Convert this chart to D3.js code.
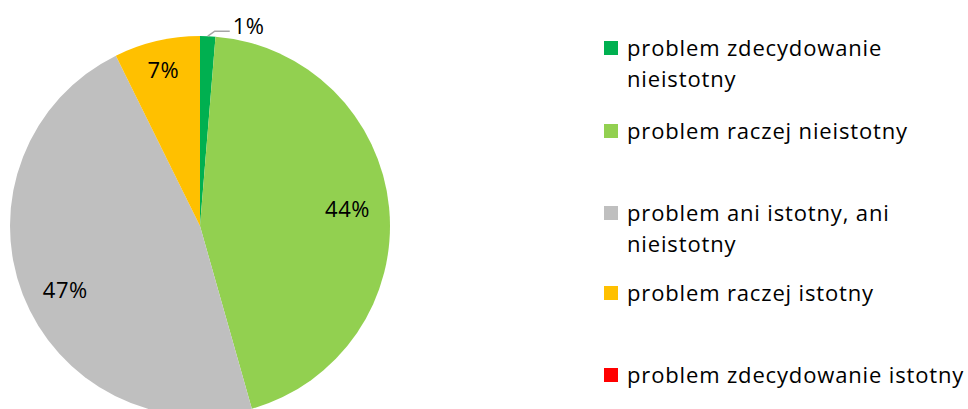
<!DOCTYPE html>
<html lang="pl">
<head>
<meta charset="utf-8">
<title>Pie</title>
<script src="https://cdn.jsdelivr.net/npm/d3@7"></script>
<style>
  body { margin: 0; background: #fff; }
  text { font-family: "Open Sans", Lato, sans-serif; fill: #000; }
</style>
</head>
<body>
<div id="chart"></div>
<script>
// dane
var categories = ["problem zdecydowanie nieistotny", "problem raczej nieistotny",
                  "problem ani istotny, ani nieistotny", "problem raczej istotny",
                  "problem zdecydowanie istotny"];
var legendLines = [["problem zdecydowanie", "nieistotny"], ["problem raczej nieistotny"],
                   ["problem ani istotny, ani", "nieistotny"], ["problem raczej istotny"],
                   ["problem zdecydowanie istotny"]];
var values = [1.3, 44.3, 47.1, 7.3, 0];
var labels = ["1%", "44%", "47%", "7%", ""];
var colors = ["#00B050", "#92D050", "#BFBFBF", "#FFC000", "#FF0000"];

var w = 968, h = 409;
var cx = 200, cy = 226, r = 190;

var svg = d3.select("#chart").append("svg")
            .attr("width", w).attr("height", h);

var pie = d3.pie().sort(null).value(function(d) { return d; });
var arcs = pie(values);
var arc = d3.arc().innerRadius(0).outerRadius(r);

var g = svg.append("g").attr("transform", "translate(" + cx + "," + cy + ")");
g.selectAll("path")
 .data(arcs)
 .enter().append("path")
 .attr("d", arc)
 .attr("fill", function(d, i) { return colors[i]; });

// etykiety wewnątrz (promień dobrany jak w Excelu)
var labelR = [0, 0.78, 0.76, 0.85, 0];
var labelDy = [0, -2, 12, 2, 0];
function labelPos(d, i) {
  var a = (d.startAngle + d.endAngle) / 2;
  return [Math.sin(a) * r * labelR[i], -Math.cos(a) * r * labelR[i] + labelDy[i]];
}
g.selectAll("text.lab")
 .data(arcs)
 .enter().filter(function(d, i) { return i > 0 && labels[i]; })
 .append("text")
 .attr("class", "lab")
 .attr("x", function(d) { return labelPos(d, d.index)[0]; })
 .attr("y", function(d) { return labelPos(d, d.index)[1]; })
 .attr("text-anchor", "middle")
 .attr("dy", "0.35em")
 .style("font-size", "22px")
 .style("letter-spacing", "0.5px")
 .text(function(d) { return labels[d.index]; });

// etykieta 1% z linią
var a0 = arcs[0];
var mid = (a0.startAngle + a0.endAngle) / 2;
var p0 = [Math.sin(mid) * r, -Math.cos(mid) * r];
g.append("polyline")
 .attr("points", [p0, [p0[0] + 7, p0[1] - 5], [p0[0] + 22, p0[1] - 5]].map(function(p) { return p.join(","); }).join(" "))
 .attr("fill", "none").attr("stroke", "#A6A6A6").attr("stroke-width", 1.5);
g.append("text")
 .attr("x", p0[0] + 25).attr("y", p0[1] - 10)
 .attr("dy", "0.35em")
 .style("font-size", "22px")
 .style("letter-spacing", "0.5px")
 .text(labels[0]);

// legenda
var legendY = [48, 131, 213, 293, 375];
var lg = svg.append("g");
legendLines.forEach(function(lines, i) {
  lg.append("rect")
    .attr("x", 604).attr("y", legendY[i] - 7)
    .attr("width", 14).attr("height", 14)
    .attr("fill", colors[i]);
  lines.forEach(function(t, j) {
    lg.append("text")
      .attr("x", 627).attr("y", legendY[i] + j * 31)
      .attr("dy", "0.35em")
      .style("font-size", "22px")
      .style("letter-spacing", "0.85px")
      .text(t);
  });
});
</script>
</body>
</html>
